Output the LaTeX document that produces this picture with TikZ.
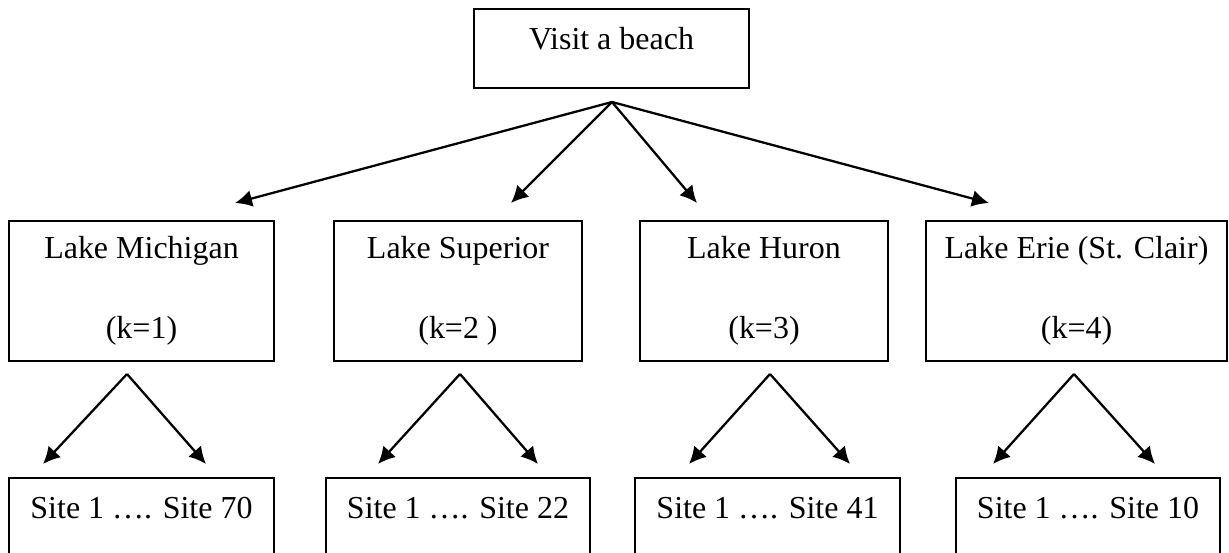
\documentclass[tikz,border=0pt]{standalone}
\usepackage{fontspec}
\setmainfont{Liberation Serif}
\usetikzlibrary{arrows.meta}
\tikzset{>={Latex[length=0.34cm,width=0.34cm]}}
\tikzset{
  box/.style={draw, line width=1.2pt, inner sep=0pt, font=\fontsize{18.2}{21}\selectfont},
  lakebox/.style={box, align=center, minimum width=#1, minimum height=2.8cm},
  linebox/.style={box, anchor=base, minimum width=#1, text height=0.8cm, text depth=0.72cm},
  link/.style={->, line width=1.3pt},
}

\begin{document}
\begin{tikzpicture}[x=0.02cm, y=-0.02cm]
\useasboundingbox (0,0) rectangle (1229,552);

\node[linebox=5.5cm, text depth=0.78cm] (beach) at (611.5,49) {Visit a beach};

\node[lakebox=5.3cm]  (mich) at (141.5,291) {Lake Michigan\\[0.86cm](k=1)};
\node[lakebox=4.96cm] (sup)  at (458,291)   {Lake Superior\\[0.86cm](k=2 )};
\node[lakebox=4.96cm] (hur)  at (764,291)   {Lake Huron\\[0.86cm](k=3)};
\node[lakebox=6.02cm] (erie) at (1076.5,291) {Lake Erie (St. Clair)\\[0.86cm](k=4)};

\node[linebox=5.3cm]  (smich) at (141.5,518) {Site 1 …. Site 70};
\node[linebox=5.28cm] (ssup)  at (458,518)   {Site 1 …. Site 22};
\node[linebox=5.3cm]  (shur)  at (767.5,518) {Site 1 …. Site 41};
\node[linebox=5.28cm] (serie) at (1088,518)  {Site 1 …. Site 10};

\coordinate (root) at (612,102);
\coordinate (tmich) at (235,203);
\coordinate (tsup) at (511,203);
\coordinate (thur) at (697,203);
\coordinate (terie) at (989,203);
\foreach \t in {tmich,tsup,thur,terie}
  \draw[link] (root) -- (\t);

\foreach \n/\a/\l/\r in {mich/127/43/206, sup/460/378/538, hur/770/689/850, erie/1074/993/1155}{
  \coordinate (f\n) at (\a,374);
  \coordinate (l\n) at (\l,464);
  \coordinate (r\n) at (\r,464);
  \draw[link] (f\n) -- (l\n);
  \draw[link] (f\n) -- (r\n);
}
\end{tikzpicture}
\end{document}
